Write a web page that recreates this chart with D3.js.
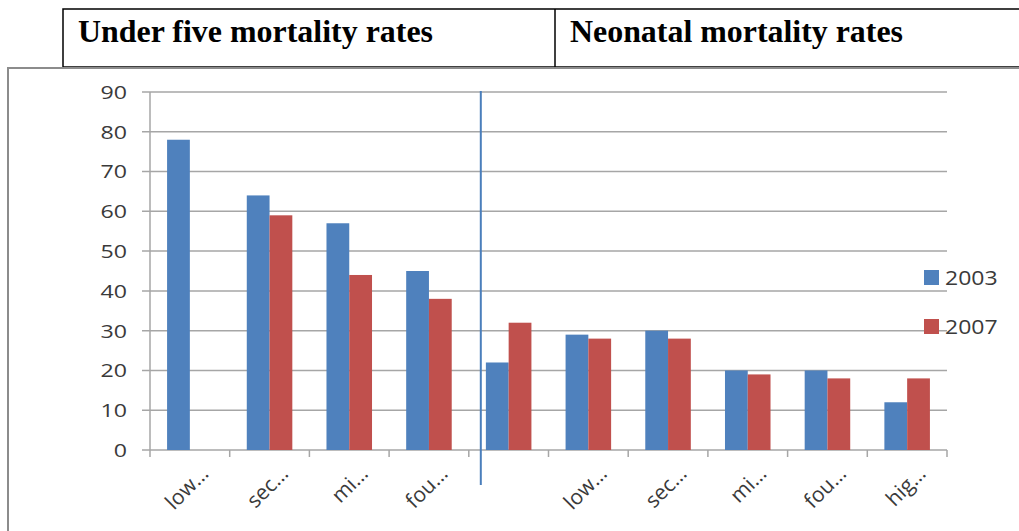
<!DOCTYPE html>
<html>
<head>
<meta charset="utf-8">
<script src="https://cdn.jsdelivr.net/npm/d3@7"></script>
<style>
  html, body { margin: 0; padding: 0; background: #fff; }
  svg { display: block; }
</style>
</head>
<body>
<svg id="chart" width="1019" height="531"></svg>
<script>
// Category labels along the x axis (the fifth slot carries no label)
const categories = ["low…", "sec…", "mi…", "fou…", "", "low…", "sec…", "mi…", "fou…", "hig…"];
// Series names
const seriesNames = ["2003", "2007"];
// Values per series, one per category (null = no bar)
const values2003 = [78, 64, 57, 45, 22, 29, 30, 20, 20, 12];
const values2007 = [null, 59, 44, 38, 32, 28, 28, 19, 18, 18];
// Y axis ticks
const yTicks = [0, 10, 20, 30, 40, 50, 60, 70, 80, 90];
// Header titles
const headers = ["Under five mortality rates", "Neonatal mortality rates"];

const colors = { "2003": "#4f81bd", "2007": "#c0504d" };
const seriesValues = { "2003": values2003, "2007": values2007 };

const svg = d3.select("#chart");

// ---- Header table ----
const head = svg.append("g");
head.append("rect")
  .attr("x", 63).attr("y", 9).attr("width", 1000).attr("height", 58)
  .attr("fill", "none").attr("stroke", "#000").attr("stroke-width", 1.5);
head.append("line")
  .attr("x1", 555).attr("x2", 555).attr("y1", 9).attr("y2", 67)
  .attr("stroke", "#000").attr("stroke-width", 1.5);
const headerX = [78, 570];
const headerW = [355, 333];
head.selectAll("text.h").data(headers).join("text")
  .attr("class", "h")
  .attr("x", (d, i) => headerX[i])
  .attr("y", 42)
  .attr("textLength", (d, i) => headerW[i])
  .attr("lengthAdjust", "spacingAndGlyphs")
  .attr("font-family", "'Liberation Serif', 'Times New Roman', serif")
  .attr("font-weight", "bold")
  .attr("font-size", 32)
  .attr("fill", "#000")
  .text(d => d);

// ---- Chart frame ----
svg.append("rect")
  .attr("x", 8).attr("y", 68).attr("width", 1030).attr("height", 480)
  .attr("fill", "#fff").attr("stroke", "#8c8c8c").attr("stroke-width", 2);

// ---- Scales ----
const plot = { left: 150, right: 947, top: 92, bottom: 450 };
const keys = categories.map((c, i) => i);
const x0 = d3.scaleBand().domain(keys).range([plot.left, plot.right]).padding(0);
const bw = x0.bandwidth();
const gap = bw * 0.75 / 3.5;   // gap width 150% of a bar, split on both sides
const x1 = d3.scaleBand().domain(seriesNames).range([gap, bw - gap]).padding(0);
const y = d3.scaleLinear().domain([0, 90]).range([plot.bottom, plot.top]);

const font = "'Open Sans', 'Lato', sans-serif";
const textColor = "#3a3a3a";
const gridColor = "#a6a6a6";
const stretch = 1.22;   // numeric labels are drawn slightly wide

// Gridlines
svg.append("g").selectAll("line").data(yTicks).join("line")
  .attr("x1", plot.left - 8).attr("x2", plot.right)
  .attr("y1", d => y(d)).attr("y2", d => y(d))
  .attr("stroke", gridColor).attr("stroke-width", 1.5);

// Y axis line
svg.append("line")
  .attr("x1", plot.left).attr("x2", plot.left)
  .attr("y1", y(90)).attr("y2", y(0))
  .attr("stroke", gridColor).attr("stroke-width", 1.5);

// Y tick labels
svg.append("g").selectAll("text").data(yTicks).join("text")
  .attr("transform", d => `translate(${plot.left - 23},${y(d)}) scale(${stretch},1)`)
  .attr("text-anchor", "end")
  .attr("dy", "0.36em")
  .attr("font-family", font).attr("font-size", 19)
  .attr("fill", textColor)
  .text(d => d);

// X tick marks at category boundaries
const bounds = keys.map(k => x0(k)).concat([plot.right]);
svg.append("g").selectAll("line").data(bounds).join("line")
  .attr("x1", d => d).attr("x2", d => d)
  .attr("y1", y(0)).attr("y2", y(0) + 7)
  .attr("stroke", gridColor).attr("stroke-width", 1.5);

// Bars
const groups = svg.append("g").selectAll("g").data(keys).join("g")
  .attr("transform", k => `translate(${x0(k)},0)`);
groups.selectAll("rect")
  .data(k => seriesNames.map(s => ({ s, v: seriesValues[s][k] })).filter(d => d.v != null))
  .join("rect")
  .attr("x", d => x1(d.s))
  .attr("width", x1.bandwidth())
  .attr("y", d => y(d.v))
  .attr("height", d => y(0) - y(d.v))
  .attr("fill", d => colors[d.s]);

// Category labels, rotated
svg.append("g").selectAll("text").data(keys).join("text")
  .attr("transform", k => `translate(${x0(k) + bw / 2 + 20},${y(0) + 25}) rotate(-45)`)
  .attr("text-anchor", "end")
  .attr("font-family", font).attr("font-size", 21)
  .attr("fill", textColor)
  .text(k => categories[k]);

// Divider between the two groups of categories
const divX = x0(4) + 12;
svg.append("line")
  .attr("x1", divX).attr("x2", divX)
  .attr("y1", y(90) - 1).attr("y2", y(0) + 35)
  .attr("stroke", "#4a7ebb").attr("stroke-width", 2);

// Legend
const legend = svg.append("g").selectAll("g").data(seriesNames).join("g")
  .attr("transform", (d, i) => `translate(924,${270 + i * 49})`);
legend.append("rect")
  .attr("width", 15).attr("height", 15)
  .attr("fill", d => colors[d]);
legend.append("text")
  .attr("transform", `translate(21,15) scale(1.15,1)`)
  .attr("font-family", font).attr("font-size", 20)
  .attr("fill", textColor)
  .text(d => d);
</script>
</body>
</html>
